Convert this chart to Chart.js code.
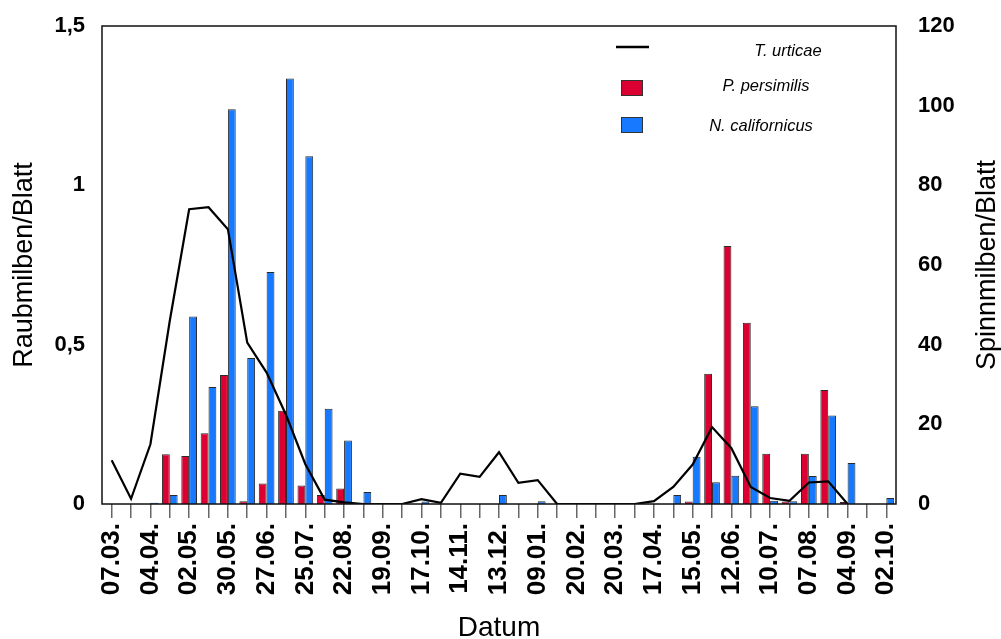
<!DOCTYPE html>
<html lang="de">
<head>
<meta charset="UTF-8" />
<title>Raubmilben und Spinnmilben pro Blatt</title>
<script src="https://cdn.jsdelivr.net/npm/chart.js"></script>
<style>
  body { margin: 0; background: #fff; }
  canvas { display: block; }
</style>
</head>
<body>
<canvas id="chart" width="1001" height="639"></canvas>
<script>
// sampling dates (every second one is labelled on the axis)
const dates = [
  "07.03.", "21.03.", "04.04.", "18.04.", "02.05.", "16.05.", "30.05.", "13.06.",
  "27.06.", "11.07.", "25.07.", "08.08.", "22.08.", "05.09.", "19.09.", "03.10.",
  "17.10.", "31.10.", "14.11.", "28.11.", "13.12.", "27.12.", "09.01.", "30.01.",
  "20.02.", "06.03.", "20.03.", "03.04.", "17.04.", "01.05.", "15.05.", "29.05.",
  "12.06.", "26.06.", "10.07.", "24.07.", "07.08.", "21.08.", "04.09.", "18.09.",
  "02.10."
];

// Spinnmilben/Blatt (right axis)
const tUrticae = [
  11, 1.3, 15, 46, 74, 74.5, 69, 40.5, 33, 22.4,
  10, 1.1, 0.4, 0, 0, 0, 1.2, 0.3, 7.6, 6.8,
  13, 5.3, 6, 0, 0, 0, 0, 0, 0.7, 4.3,
  9.9, 19.3, 14, 4.3, 1.5, 0.8, 5.4, 5.7, 0, null,
  null
];

// Raubmilben/Blatt (left axis)
const pPersimilis = [
  0, 0, 0, 0.156, 0.151, 0.222, 0.405, 0.009, 0.064, 0.293,
  0.058, 0.028, 0.049, 0, 0, 0, 0, 0, 0, 0,
  0, 0, 0, 0, 0, 0, 0, 0, 0, 0,
  0.008, 0.409, 0.81, 0.569, 0.158, 0.008, 0.158, 0.358, 0.006, 0,
  0
];

const nCalifornicus = [
  0, 0, 0.004, 0.028, 0.588, 0.367, 1.239, 0.458, 0.728, 1.335,
  1.091, 0.299, 0.199, 0.038, 0, 0, 0.008, 0, 0, 0,
  0.028, 0, 0.009, 0, 0, 0, 0, 0, 0, 0.028,
  0.148, 0.068, 0.089, 0.307, 0.01, 0.009, 0.088, 0.278, 0.129, 0,
  0.019
];

const leftTickLabels = ["0", "0,5", "1", "1,5"];
const rightTickLabels = ["0", "20", "40", "60", "80", "100", "120"];

const FONT = '"Liberation Sans", Arial, Helvetica, sans-serif';
Chart.defaults.font.family = FONT;
Chart.defaults.color = "#000";

// frame, right axis title and the legend inside the plot
const extras = {
  id: "extras",
  afterDraw(chart) {
    const { ctx, chartArea: a } = chart;
    ctx.save();
    ctx.strokeStyle = "#111";
    ctx.lineWidth = 1.5;
    ctx.strokeRect(a.left, a.top, a.right - a.left, a.bottom - a.top);

    ctx.fillStyle = "#000";
    ctx.textAlign = "center";
    ctx.textBaseline = "middle";
    ctx.font = "27px " + FONT;
    ctx.save();
    ctx.translate(chart.width - 13, (a.top + a.bottom) / 2);
    ctx.rotate(-Math.PI / 2);
    ctx.fillText("Spinnmilben/Blatt", 0, 0);
    ctx.restore();

    // legend
    const ds = chart.data.datasets;
    ctx.font = "italic 16.5px " + FONT;
    ctx.strokeStyle = ds[0].borderColor;
    ctx.lineWidth = 2.5;
    ctx.beginPath();
    ctx.moveTo(616, 47);
    ctx.lineTo(649, 47);
    ctx.stroke();
    ctx.fillText(ds[0].label, 788, 51);
    const boxes = [[ds[1], 80], [ds[2], 117]];
    ctx.lineWidth = 1;
    boxes.forEach(([d, y]) => {
      ctx.fillStyle = d.backgroundColor;
      ctx.fillRect(621, y, 22, 16);
      ctx.strokeStyle = "#333";
      ctx.strokeRect(621.5, y + 0.5, 21, 15);
    });
    ctx.fillStyle = "#000";
    ctx.fillText(ds[1].label, 766, 86);
    ctx.fillText(ds[2].label, 761, 126);
    ctx.restore();
  }
};

new Chart(document.getElementById("chart"), {
  type: "bar",
  data: {
    labels: dates,
    datasets: [
      {
        type: "line",
        label: "T. urticae",
        data: tUrticae,
        yAxisID: "y1",
        borderColor: "#000",
        borderWidth: 2.2,
        pointRadius: 0,
        tension: 0,
        order: 0
      },
      {
        label: "P. persimilis",
        data: pPersimilis,
        yAxisID: "y",
        backgroundColor: "#dc0032",
        borderColor: "#2a2a2a",
        borderWidth: 1,
        barPercentage: 1,
        categoryPercentage: 0.81,
        order: 1
      },
      {
        label: "N. californicus",
        data: nCalifornicus,
        yAxisID: "y",
        backgroundColor: "#1679ff",
        borderColor: "#2a2a2a",
        borderWidth: 1,
        barPercentage: 1,
        categoryPercentage: 0.81,
        order: 1
      }
    ]
  },
  options: {
    responsive: false,
    animation: false,
    layout: { padding: { top: 26, left: 0, right: 0, bottom: 0 } },
    plugins: {
      legend: { display: false },
      tooltip: { enabled: false }
    },
    scales: {
      x: {
        grid: {
          display: true,
          drawOnChartArea: false,
          drawTicks: true,
          tickLength: 14,
          offset: false,
          color: "#666",
          lineWidth: 1.5
        },
        border: { display: false },
        ticks: {
          autoSkip: false,
          minRotation: 90,
          maxRotation: 90,
          padding: 5,
          font: { size: 26, weight: "bold" },
          callback: function (v, i) {
            return i % 2 === 0 ? dates[i] : "";
          }
        },
        title: {
          display: true,
          text: "Datum",
          font: { size: 28, lineHeight: 0.8 },
          padding: { top: 0, bottom: 0 }
        },
        afterFit(scale) { scale.height = 135; }
      },
      y: {
        position: "left",
        min: 0,
        max: 1.5,
        grid: { display: false, drawTicks: false },
        border: { display: false },
        ticks: {
          stepSize: 0.5,
          padding: 17,
          font: { size: 22, weight: "bold" },
          callback: function (v, i) { return leftTickLabels[i]; }
        },
        title: {
          display: true,
          text: "Raubmilben/Blatt",
          font: { size: 27 },
          padding: { top: 8, bottom: 0 }
        },
        afterFit(scale) {
          scale.width = 102;
          scale.paddingTop = 0;
          scale.paddingBottom = 0;
        }
      },
      y1: {
        position: "right",
        min: 0,
        max: 120,
        grid: { display: false, drawTicks: false },
        border: { display: false },
        ticks: {
          stepSize: 20,
          padding: 22,
          font: { size: 22, weight: "bold" },
          callback: function (v, i) { return rightTickLabels[i]; }
        },
        afterFit(scale) {
          scale.width = 105;
          scale.paddingTop = 0;
          scale.paddingBottom = 0;
        }
      }
    }
  },
  plugins: [extras]
});
</script>
</body>
</html>
